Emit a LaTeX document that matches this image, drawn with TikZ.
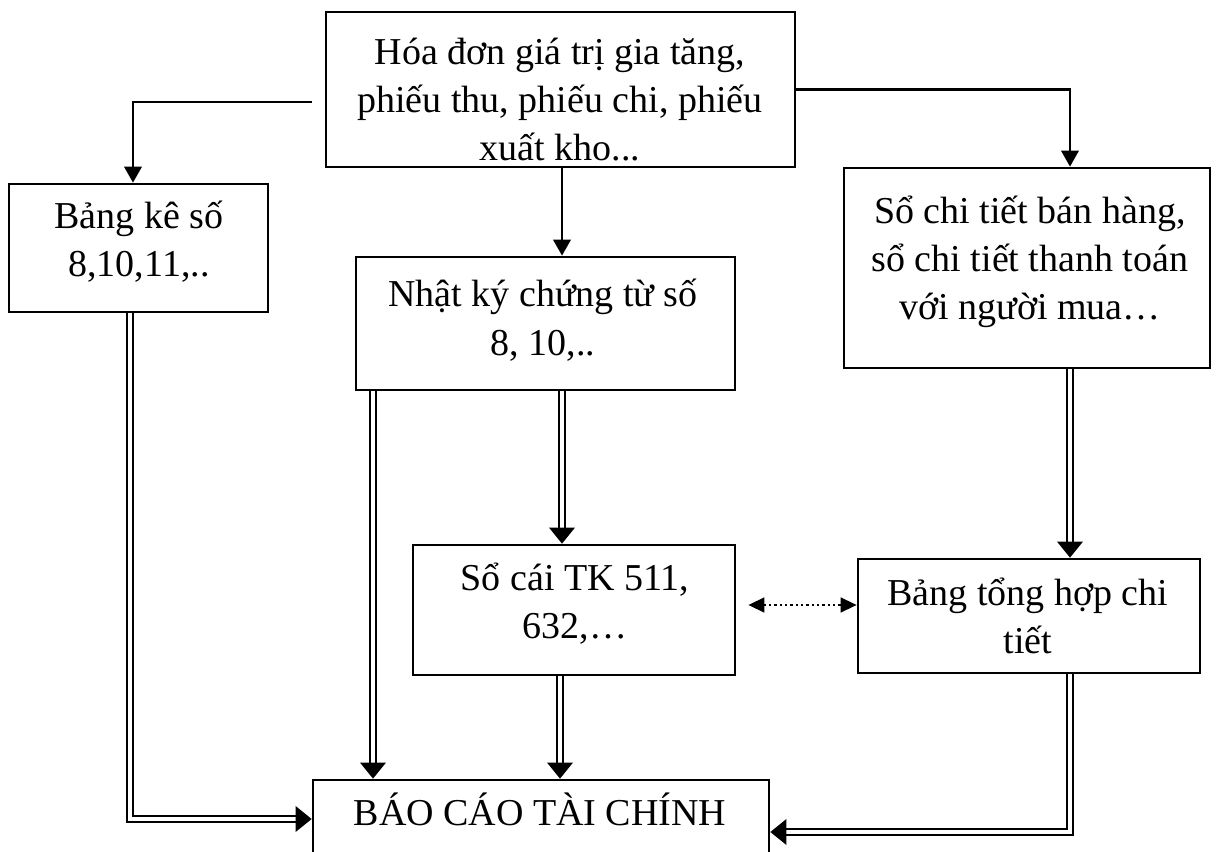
\documentclass[tikz,border=0pt]{standalone}
\usepackage{fontspec}
\setmainfont{Liberation Serif}
\usetikzlibrary{arrows.meta,calc}

\tikzset{
  box/.style={draw, line width=2pt, inner sep=0pt, fill=none},
  txt/.style={anchor=base, align=center, inner sep=0pt,
    font=\fontsize{28.5pt}{36pt}\selectfont},
  arr/.style={line width=2pt, -{Triangle[length=12pt,width=13pt]}},
  dbl/.style={double, line width=1.8pt, double distance=2.4pt, line join=miter,
    -{Triangle[length=12pt,width=19pt]}},
  dots/.style={line width=1.8pt, dash pattern=on 1.6pt off 2.4pt,
    {Triangle[length=12pt,width=11pt]}-{Triangle[length=12pt,width=11pt]}},
}

\begin{document}
\begin{tikzpicture}[x=0.75pt,y=-0.75pt]
\useasboundingbox (0,0) rectangle (1225,852);

% boxes
\node[box, minimum width=351.75pt, minimum height=116.25pt] (hd)  at (560.5,89.5) {};
\node[box, minimum width=194.25pt, minimum height=96pt]     (bk)  at (138.5,248) {};
\node[box, minimum width=274.5pt,  minimum height=150pt]    (sct) at (1027,268) {};
\node[box, minimum width=284.25pt, minimum height=99.75pt]  (nk)  at (545.5,323.5) {};
\node[box, minimum width=241.5pt,  minimum height=97.5pt]   (sc)  at (574,610) {};
\node[box, minimum width=256.5pt,  minimum height=85.5pt]   (bth) at (1029,616) {};
\node[box, minimum width=342pt,    minimum height=90pt]     (bc)  at (541,840) {};

% labels (anchored at the baseline of the last line)
\node[txt] (hdt)  at (560,161) {Hóa đơn giá trị gia tăng,\\phiếu thu, phiếu chi, phiếu\\xuất kho...};
\node[txt] (bkt)  at (139,277) {Bảng kê số\\8,10,11,..};
\node[txt] (sctt) at (1030,320) {Sổ chi tiết bán hàng,\\sổ chi tiết thanh toán\\với người mua…};
\node[txt] (nkt)  at (543,355) {Nhật ký chứng từ số\\8, 10,..};
\node[txt] (sct2) at (575,638) {Sổ cái TK 511,\\632,…};
\node[txt] (btht) at (1028,653) {Bảng tổng hợp chi\\tiết};
\node[txt] (bct)  at (540,825) {BÁO CÁO TÀI CHÍNH};

% single arrows from the source documents
\draw[arr] ($(hd.west)+(-13,12.5)$) -| ($(bk.north)+(-5.5,0)$);
\draw[arr] (hd.east) -| ($(sct.north)+(43,0)$);
\draw[arr] ($(hd.south)+(1.5,0)$) -- ($(nk.north)+(16.5,0)$);

% double arrows
\draw[dbl] ($(bk.south)+(-8.5,0)$) |- ($(bc.west)+(0,-21)$);
\draw[dbl] (nk.south) ++(-172.5,0) coordinate (nkl) -- (nkl |- bc.north);
\draw[dbl] ($(nk.south)+(16.5,0)$) -- ($(sc.north)+(-12,0)$);
\draw[dbl] ($(sc.south)+(-14,0)$) coordinate (scb) -- (scb |- bc.north);
\draw[dbl] ($(sct.south)+(43,0)$) -- ($(bth.north)+(41,0)$);
\draw[dbl] ($(bth.south)+(41,0)$) |- ($(bc.east)+(0,-8)$);

% dotted link between ledger and summary
\draw[dots] ($(sc.east)+(12,-5)$) -- ($(bth.west)+(0,-11)$);
\end{tikzpicture}
\end{document}
